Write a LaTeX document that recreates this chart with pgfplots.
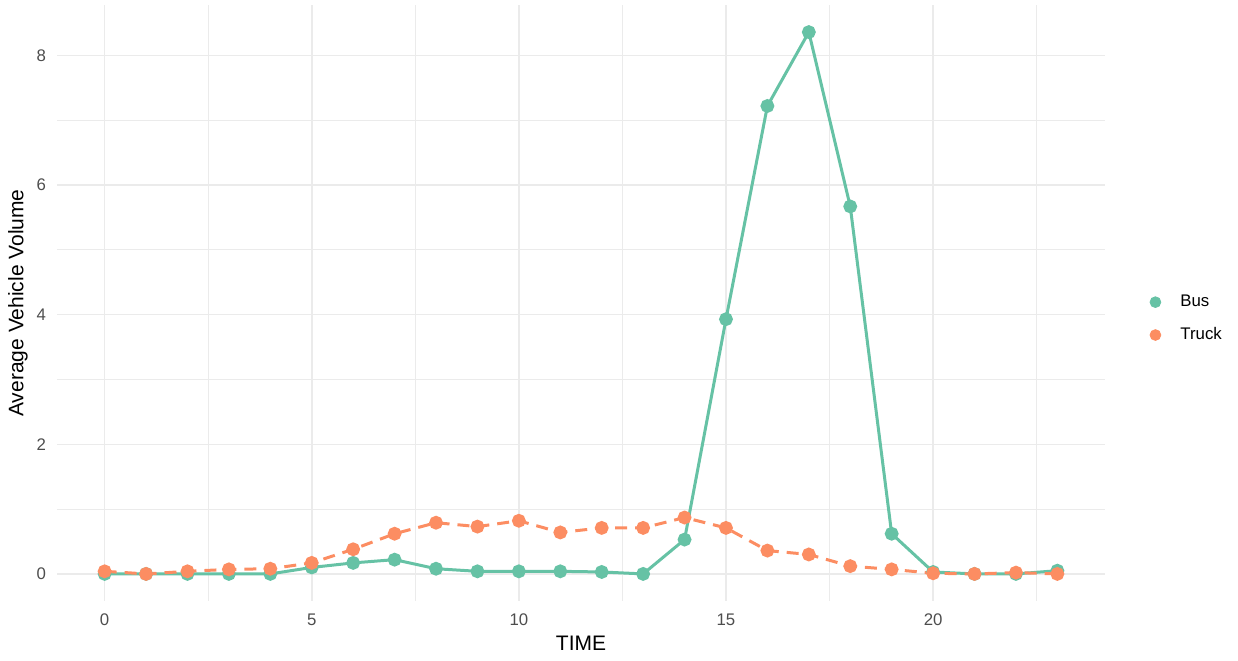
\documentclass[border=0pt]{standalone}
\usepackage{fontspec}
\setmainfont{Liberation Sans}
\usepackage{pgfplots}
\pgfplotsset{compat=1.18}
\definecolor{bus}{HTML}{66C2A5}
\definecolor{truck}{HTML}{FC8D62}
\definecolor{gridc}{HTML}{EBEBEB}
\definecolor{ticktxt}{HTML}{4D4D4D}
\begin{document}
\begin{tikzpicture}
\begin{axis}[
  scale only axis,
  width=524pt, height=298pt,
  at={(0,0)}, anchor=south west,
  xmin=-1.15, xmax=24.15,
  ymin=-0.418, ymax=8.778,
  xtick={0,5,10,15,20},
  ytick={0,2,4,6,8},
  minor xtick={2.5,7.5,12.5,17.5,22.5},
  minor ytick={1,3,5,7},
  grid=both,
  major grid style={draw=gridc, line width=0.75pt},
  minor grid style={draw=gridc, line width=0.4pt},
  axis line style={draw=none},
  major tick length=0pt, minor tick length=0pt,
  tick style={draw=none},
  /pgf/number format/assume math mode=true,
  ticklabel style={font=\fontsize{8.4}{10}\selectfont, text=ticktxt},
  xticklabel style={anchor=north, yshift=-3pt},
  yticklabel style={anchor=east, xshift=-2pt},
  xlabel={TIME},
  ylabel={Average Vehicle Volume},
  label style={font=\fontsize{10.5}{12}\selectfont},
  xlabel style={at={(axis description cs:0.5,0)}, anchor=center, yshift=-21pt},
  ylabel style={at={(axis description cs:0,0.5)}, anchor=center, rotate=0, yshift=19.5pt},
  legend style={draw=none, fill=none, at={(axis description cs:1.0277,0.4736)}, anchor=west,
    font=\fontsize{8.4}{10}\selectfont, inner sep=0pt, row sep=5pt},
  legend cell align=left,
  legend image code/.code={\path[draw=none] (0pt,0pt) -- (21pt,0pt); \draw[#1] plot coordinates {(10.5pt,0pt)};},
  clip=false,
]
\addplot[bus, line width=1.5pt, mark=*, mark size=2.7pt, forget plot] coordinates {
(0,0.00) (1,0.00) (2,0.00) (3,0.00) (4,0.00) (5,0.10) (6,0.17) (7,0.22)
(8,0.08) (9,0.04) (10,0.04) (11,0.04) (12,0.03) (13,0.00) (14,0.53) (15,3.93)
(16,7.22) (17,8.36) (18,5.67) (19,0.62) (20,0.03) (21,0.00) (22,0.00) (23,0.05)
};
\addplot[truck, line width=1.5pt, dash pattern=on 6pt off 4pt, mark=*, mark size=2.7pt, mark options={solid}, forget plot] coordinates {
(0,0.04) (1,0.00) (2,0.04) (3,0.07) (4,0.08) (5,0.17) (6,0.38) (7,0.62)
(8,0.79) (9,0.73) (10,0.82) (11,0.64) (12,0.71) (13,0.71) (14,0.87) (15,0.71)
(16,0.36) (17,0.30) (18,0.12) (19,0.07) (20,0.01) (21,0.00) (22,0.02) (23,0.00)
};
\addlegendimage{only marks, mark=*, mark size=2.7pt, color=bus}
\addlegendentry{Bus}
\addlegendimage{only marks, mark=*, mark size=2.7pt, color=truck}
\addlegendentry{Truck}
\end{axis}
\pgfresetboundingbox
\path[use as bounding box] (-28.5pt,-29.5pt) rectangle (590.5pt,300.5pt);
\end{tikzpicture}
\end{document}
